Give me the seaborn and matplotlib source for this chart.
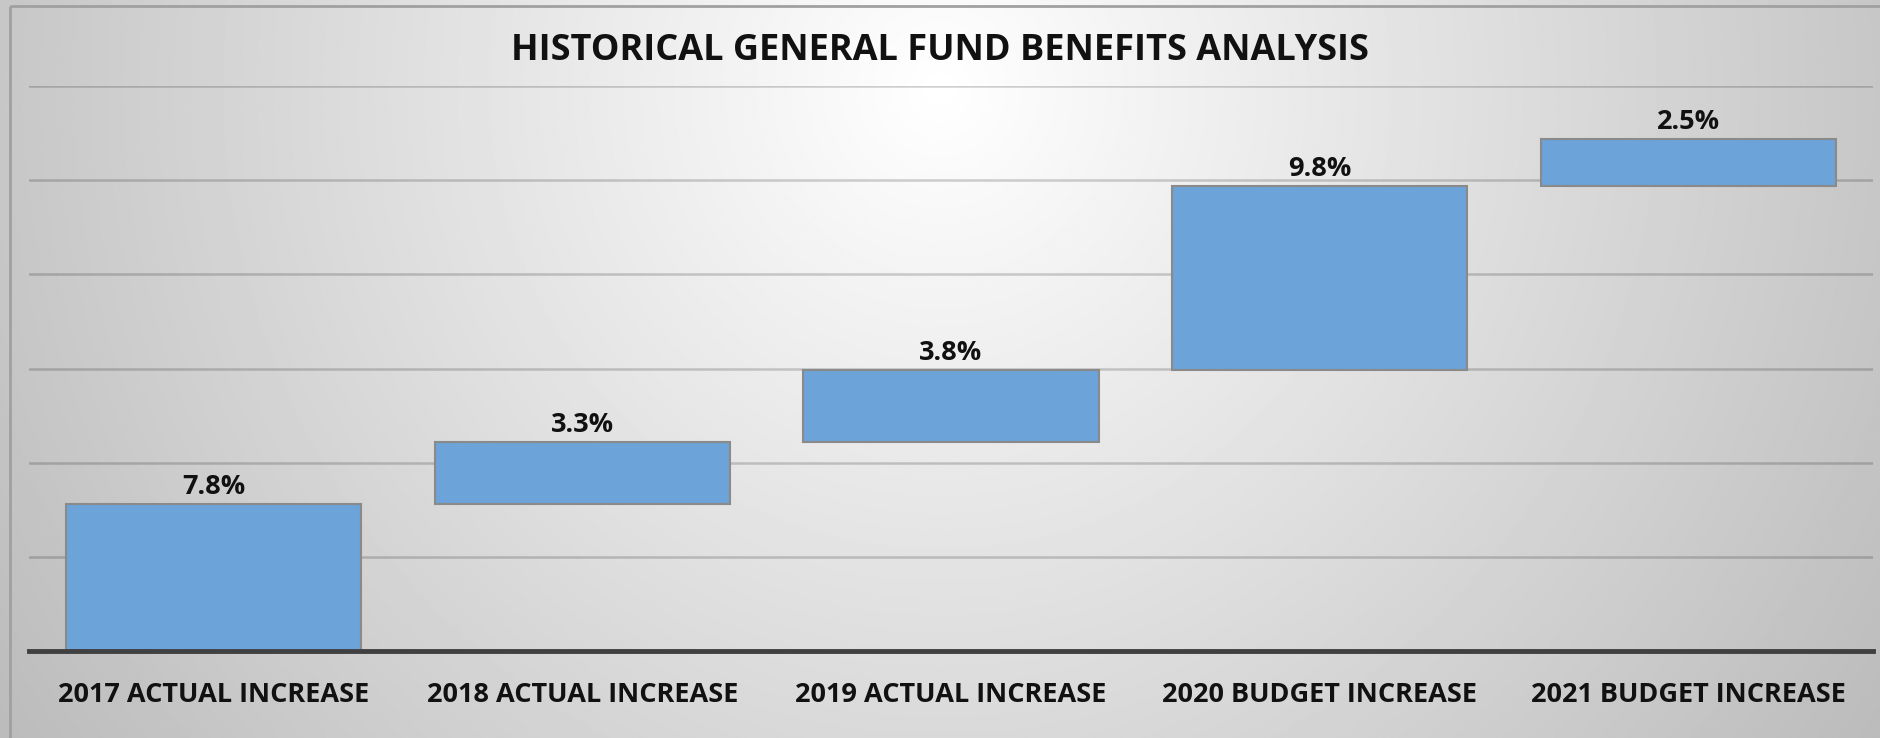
import numpy as np
import pandas as pd
import matplotlib
matplotlib.use("Agg")
import matplotlib.pyplot as plt
import seaborn as sns

categories = ["2017 ACTUAL INCREASE", "2018 ACTUAL INCREASE", "2019 ACTUAL INCREASE",
              "2020 BUDGET INCREASE", "2021 BUDGET INCREASE"]
increases = [7.8, 3.3, 3.8, 9.8, 2.5]
labels = ["7.8%", "3.3%", "3.8%", "9.8%", "2.5%"]
title = "HISTORICAL GENERAL FUND BENEFITS ANALYSIS"

bases = list(np.concatenate([[0], np.cumsum(increases)[:-1]]))
df = pd.DataFrame({"cat": categories, "inc": increases, "base": bases})

sns.set_theme(style="white")
plt.rcParams['font.family'] = ['Open Sans', 'DejaVu Sans']

W, H, DPI = 1880, 738, 100
fig = plt.figure(figsize=(W / DPI, H / DPI), dpi=DPI)

# radial gradient background
bg = fig.add_axes([0, 0, 1, 1], zorder=-10)
yy, xx = np.mgrid[0:1:400j, 0:1:1000j]
dx = (xx - 0.5) / 0.5
dy = (yy - 0.12) / 1.3
r = np.clip(np.sqrt(dx ** 2 + dy ** 2), 0, 1.2)
val = 1 - 0.22 * r
bg.imshow(val, cmap="gray", vmin=0, vmax=1, aspect="auto", extent=[0, 1, 1, 0],
          interpolation="bilinear")
bg.set_xlim(0, 1)
bg.set_ylim(1, 0)
bg.axis("off")
# frame border on left and top
bx = 10 / W
by = 6 / H
bg.plot([bx, bx], [1.0, by], color="#a0a0a0", lw=2, solid_capstyle="butt")
bg.plot([bx, 1.0], [by, by], color="#a0a0a0", lw=2, solid_capstyle="butt")

left, right = 29 / W, 1873 / W
top, bottom = 86 / H, 651 / H
ax = fig.add_axes([left, 1 - bottom, right - left, bottom - top])
ax.set_facecolor("none")

sns.barplot(data=df, x="cat", y="inc", bottom=df["base"].values, ax=ax,
            color="#6ca3d8", saturation=1, width=0.8, errorbar=None,
            edgecolor="#8a8a8a", linewidth=1.5, zorder=3)

ax.set_ylim(0, 30)
ax.set_xlim(-0.5, len(categories) - 0.5)
ax.set_yticks([5, 10, 15, 20, 25, 30])
ax.yaxis.grid(True, color="black", alpha=0.18, linewidth=1.8)
ax.set_axisbelow(True)
for s in ["top", "right", "left"]:
    ax.spines[s].set_visible(False)
ax.spines["bottom"].set_color("#404040")
ax.spines["bottom"].set_linewidth(3.5)
ax.spines["bottom"].set_zorder(4)
ax.tick_params(axis="y", left=False, labelleft=False)
ax.tick_params(axis="x", bottom=False, pad=16)
ax.set_xlabel("")
ax.set_ylabel("")
for t in ax.get_xticklabels():
    t.set_fontsize(19.5)
    t.set_fontweight("bold")
    t.set_color("#111111")

for i, (b, v, lab) in enumerate(zip(bases, increases, labels)):
    ax.annotate(lab, (i, b + v), xytext=(0, 3), textcoords="offset points",
                ha="center", va="bottom", fontsize=19.5, fontweight="bold",
                color="#111111")

fig.text(0.5, 1 - 51 / H, title, ha="center", va="center", fontsize=26,
         fontweight="bold", color="#111111")

fig.savefig("out.png", dpi=DPI)
